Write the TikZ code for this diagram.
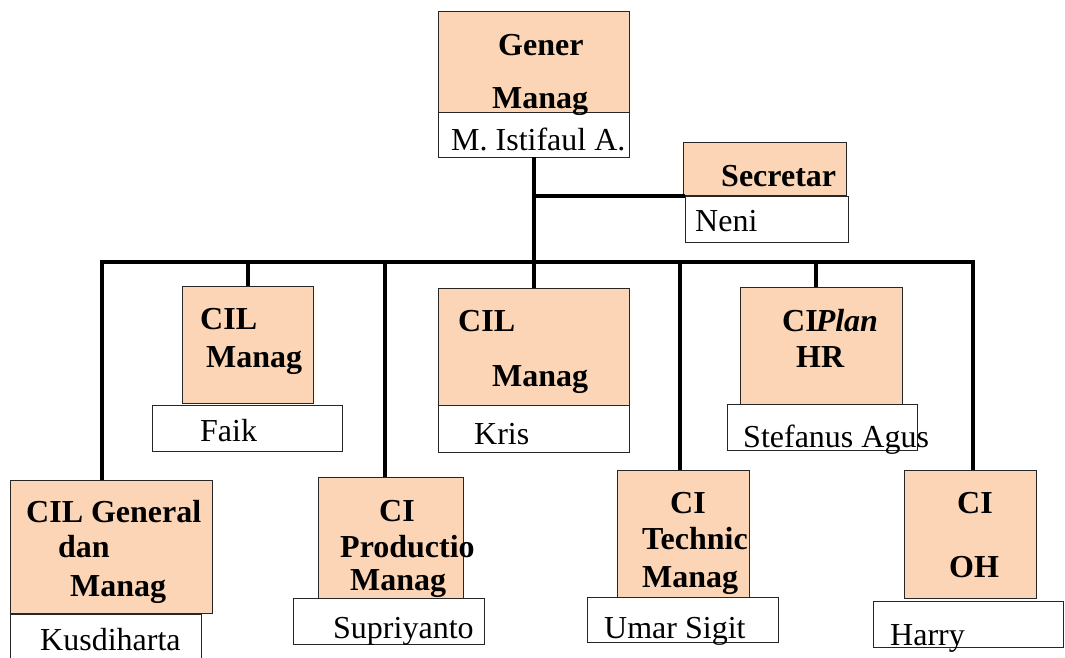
\documentclass[tikz,border=0pt]{standalone}
\usepackage{fontspec}
\setmainfont{Liberation Serif}
\definecolor{orangefill}{HTML}{FBD5B5}
\newcommand\ttlfont{\fontsize{32}{36}\selectfont\bfseries}
\newcommand\nmfont{\fontsize{32}{36}\selectfont}
\begin{document}
\begin{tikzpicture}[x=1pt,y=-1pt,
  obox/.style={draw=black!85, line width=0.8pt, fill=orangefill, inner sep=0pt, outer sep=0pt, anchor=north west},
  wbox/.style={draw=black!85, line width=0.8pt, fill=white, inner sep=0pt, outer sep=0pt, anchor=north west},
  ttl/.style={anchor=base west, inner sep=0pt, font=\ttlfont},
  nm/.style={anchor=base west, inner sep=0pt, font=\nmfont},
  conn/.style={line width=4pt, draw=black}]
\useasboundingbox (0,0) rectangle (1065,657);

% boxes
\node[obox, minimum width=191pt, minimum height=101pt] (gmT) at (438,11) {};
\node[wbox, minimum width=191pt, minimum height=45pt] (gmB) at (438,112) {};
\node[obox, minimum width=163pt, minimum height=53pt] (secT) at (683,142) {};
\node[wbox, minimum width=163pt, minimum height=46pt] (secB) at (685,196) {};
\node[obox, minimum width=131pt, minimum height=117pt] (fkT) at (182,286) {};
\node[wbox, minimum width=190pt, minimum height=46pt] (fkB) at (152,405) {};
\node[obox, minimum width=191pt, minimum height=117pt] (krT) at (438,288) {};
\node[wbox, minimum width=191pt, minimum height=47pt] (krB) at (438,405) {};
\node[obox, minimum width=162pt, minimum height=117pt] (hrT) at (740,287) {};
\node[wbox, minimum width=190pt, minimum height=46pt] (hrB) at (727,404) {};
\node[obox, minimum width=202pt, minimum height=133pt] (genT) at (10,480) {};
\node[wbox, minimum width=191pt, minimum height=55pt] (genB) at (10,614) {};
\node[obox, minimum width=145pt, minimum height=121pt] (prT) at (318,477) {};
\node[wbox, minimum width=191pt, minimum height=46pt] (prB) at (293,598) {};
\node[obox, minimum width=132pt, minimum height=127pt] (tcT) at (617,470) {};
\node[wbox, minimum width=191pt, minimum height=45pt] (tcB) at (587,597) {};
\node[obox, minimum width=132pt, minimum height=128pt] (ohT) at (904,470) {};
\node[wbox, minimum width=190pt, minimum height=46pt] (ohB) at (873,601) {};

% connectors
\coordinate (bL) at (102,262);
\coordinate (bR) at (973,262);
\coordinate (bP) at (385,262);
\coordinate (bT) at (680,262);
\coordinate (bH) at (816,262);
\coordinate (sj) at (gmB.south |- secB.north west);
\draw[conn] (gmB.south) -- (krT.north);
\draw[conn] (sj) -- (secB.north west);
\draw[conn] (bL |- genT.north) -- (bL) -- (bR) -- (bR |- ohT.north);
\draw[conn] (fkT.north) -- (fkT.north |- bL);
\draw[conn] (bP) -- (bP |- prT.north);
\draw[conn] (bT) -- (bT |- tcT.north);
\draw[conn] (bH) -- (bH |- hrT.north);

% texts
\node[ttl] (t1) at (498,55) {Gener};
\node[ttl] (t2) at (492,108) {Manag};
\node[nm] (n1) at (451,150) {M. Istifaul A.};
\node[ttl] (t3) at (721,186) {Secretar};
\node[nm] (n2) at (695,231) {Neni};
\node[ttl] (t4) at (200,329) {CIL};
\node[ttl] (t5) at (206,367) {Manag};
\node[nm] (n3) at (200,441) {Faik};
\node[ttl] (t6) at (458,331) {CIL};
\node[ttl] (t7) at (492,386) {Manag};
\node[nm] (n4) at (474,444) {Kris};
\node[ttl] (t8) at (782,331) {CI\kern-2pt\textit{Plan}};
\node[ttl] (t9) at (796,367) {HR};
\node[nm] (n5) at (743,447) {Stefanus Agus};
\node[ttl] (t10) at (26,522) {CIL General};
\node[ttl] (t11) at (58,557) {dan};
\node[ttl] (t12) at (70,596) {Manag};
\node[nm] (n6) at (40,650) {Kusdiharta};
\node[ttl] (t13) at (379,521) {CI};
\node[ttl] (t14) at (340,557) {Productio};
\node[ttl] (t15) at (350,590) {Manag};
\node[nm] (n7) at (333,638) {Supriyanto};
\node[ttl] (t16) at (670,513) {CI};
\node[ttl] (t17) at (642,549) {Technic};
\node[ttl] (t18) at (642,587) {Manag};
\node[nm] (n8) at (604,638) {Umar Sigit};
\node[ttl] (t19) at (957,513) {CI};
\node[ttl] (t20) at (949,577) {OH};
\node[nm] (n9) at (890,645) {Harry};
\end{tikzpicture}
\end{document}
